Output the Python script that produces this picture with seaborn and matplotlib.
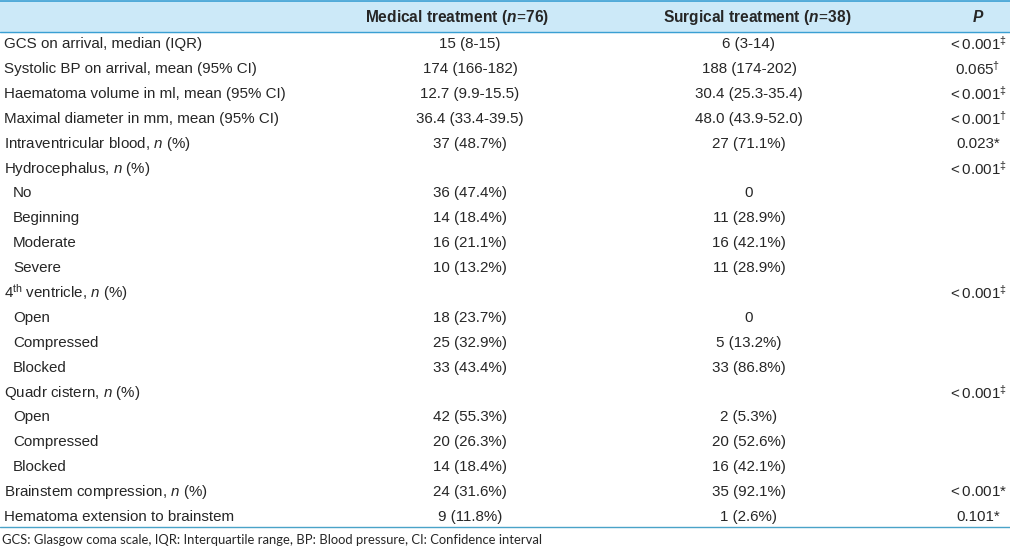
import matplotlib
matplotlib.use("Agg")
import matplotlib.pyplot as plt
import seaborn as sns

# ── table content ────────────────────────────────────────────
header = [r"Medical treatment ($\mathbfit{n}\!=\!\mathbf{76}$)",
          r"Surgical treatment ($\mathbfit{n}\!=\!\mathbf{38}$)",
          r"$\mathbfit{P}$"]

row_labels = [
    "GCS on arrival, median (IQR)",
    "Systolic BP on arrival, mean (95% CI)",
    "Haematoma volume in ml, mean (95% CI)",
    "Maximal diameter in mm, mean (95% CI)",
    r"Intraventricular blood, $\mathit{n}$ (%)",
    r"Hydrocephalus, $\mathit{n}$ (%)",
    "No", "Beginning", "Moderate", "Severe",
    r"4$^{\mathrm{th}}$ ventricle, $\mathit{n}$ (%)",
    "Open", "Compressed", "Blocked",
    r"Quadr cistern, $\mathit{n}$ (%)",
    "Open", "Compressed", "Blocked",
    r"Brainstem compression, $\mathit{n}$ (%)",
    "Hematoma extension to brainstem",
]
indented = [False] * 6 + [True] * 4 + [False] + [True] * 3 + [False] + [True] * 3 + [False, False]

medical = ["15 (8-15)", "174 (166-182)", "12.7 (9.9-15.5)", "36.4 (33.4-39.5)",
           "37 (48.7%)", "", "36 (47.4%)", "14 (18.4%)", "16 (21.1%)", "10 (13.2%)",
           "", "18 (23.7%)", "25 (32.9%)", "33 (43.4%)",
           "", "42 (55.3%)", "20 (26.3%)", "14 (18.4%)",
           "24 (31.6%)", "9 (11.8%)"]
surgical = ["6 (3-14)", "188 (174-202)", "30.4 (25.3-35.4)", "48.0 (43.9-52.0)",
            "27 (71.1%)", "", "0", "11 (28.9%)", "16 (42.1%)", "11 (28.9%)",
            "", "0", "5 (13.2%)", "33 (86.8%)",
            "", "2 (5.3%)", "20 (52.6%)", "16 (42.1%)",
            "35 (92.1%)", "1 (2.6%)"]
p_values = [r"$<$0.001$^{\ddagger}$", r"0.065$^{\dagger}$", r"$<$0.001$^{\ddagger}$",
            r"$<$0.001$^{\dagger}$", "0.023*", r"$<$0.001$^{\ddagger}$",
            "", "", "", "", r"$<$0.001$^{\ddagger}$", "", "", "",
            r"$<$0.001$^{\ddagger}$", "", "", "", r"$<$0.001*", "0.101*"]

footnote = "GCS: Glasgow coma scale, IQR: Interquartile range, BP: Blood pressure, CI: Confidence interval"

# ── style ────────────────────────────────────────────────────
sns.set_theme(style="white")
plt.rcParams["font.family"] = ["Liberation Sans", "DejaVu Sans"]
plt.rcParams["mathtext.fontset"] = "custom"
plt.rcParams["mathtext.rm"] = "Liberation Sans"
plt.rcParams["mathtext.it"] = "Liberation Sans:italic"
plt.rcParams["mathtext.bf"] = "Liberation Sans:bold"
plt.rcParams["mathtext.bfit"] = "Liberation Sans:italic:bold"

fig = plt.figure(figsize=(10.1, 5.5), dpi=100)
ax = fig.add_axes([0, 0, 1, 1])
ax.set_xlim(0, 1010)
ax.set_ylim(550, 0)
ax.axis("off")

band_color = "#cce9f8"
line_color = "#3a9fd3"
fs = 10.9

# header band
ax.axhspan(1, 32, color=band_color, zorder=0)
ax.axhline(1, color=line_color, lw=1.2)
ax.axhline(32, color=line_color, lw=1.0)

head_x = [457, 757, 978]
col_x = [470, 749, 978]
for x, h in zip(head_x, header):
    ax.text(x, 17.5, h, ha="center", va="center", fontsize=11.2, fontweight="bold")

row_h = 24.9
for i, lab in enumerate(row_labels):
    y = 44 + i * row_h
    ax.text(13 if indented[i] else 4, y, lab, ha="left", va="center", fontsize=fs)
    ax.text(col_x[0], y, medical[i], ha="center", va="center", fontsize=fs)
    ax.text(col_x[1], y, surgical[i], ha="center", va="center", fontsize=fs)
    ax.text(col_x[2], y, p_values[i], ha="center", va="center", fontsize=fs)

ax.axhline(527, color="#4aa3c8", lw=1.0)
ax.text(2, 540, footnote, ha="left", va="center", fontsize=9.4,
        family=["Lato", "DejaVu Sans"])

fig.savefig("out.png", dpi=100)
